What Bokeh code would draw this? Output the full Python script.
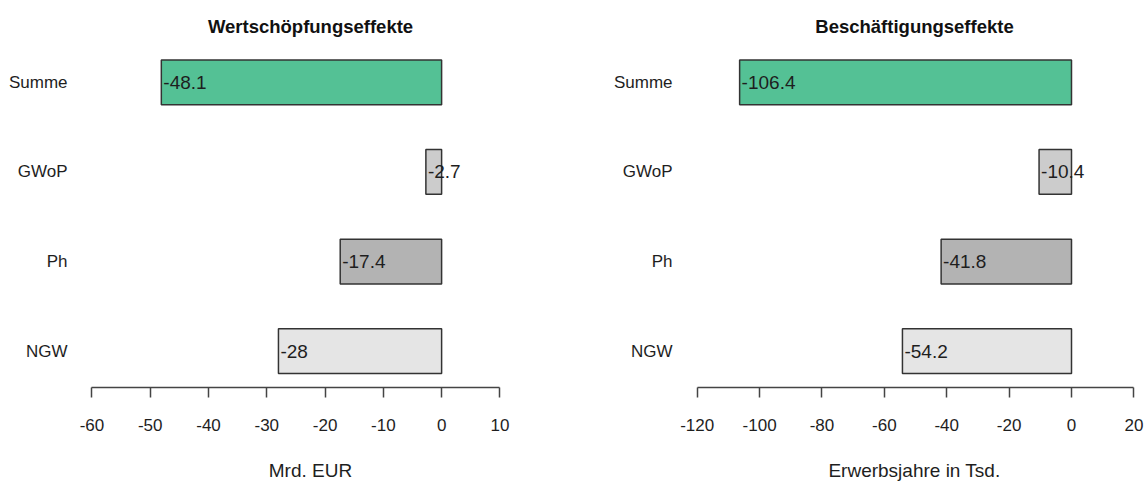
from bokeh.plotting import figure
from bokeh.models import Range1d, FixedTicker, ColumnDataSource
from bokeh.layouts import row
from bokeh.core.properties import value
from bokeh.embed import file_html
from bokeh.resources import INLINE

# ---- data ----
categories = ["NGW", "Ph", "GWoP", "Summe"]          # bottom to top
wertschoepfung = [-28.0, -17.4, -2.7, -48.1]          # Mrd. EUR
beschaeftigung = [-54.2, -41.8, -10.4, -106.4]        # Erwerbsjahre in Tsd.
bar_colors = ["#E5E5E5", "#B3B3B3", "#CCCCCC", "#54C195"]
left_ticks = [-60, -50, -40, -30, -20, -10, 0, 10]
right_ticks = [-120, -100, -80, -60, -40, -20, 0, 20]
titles = ["Wertschöpfungseffekte", "Beschäftigungseffekte"]
xlabels = ["Mrd. EUR", "Erwerbsjahre in Tsd."]

FONT = "Liberation Sans"
TXT = "#1e1e1e"


def fmt(v):
    return f"{v:g}"


def make_panel(title, vals, ticks, xlab, xr, width, bl, br, cat_standoff):
    p = figure(width=width, height=483, x_range=Range1d(*xr),
               y_range=Range1d(-0.4065, 3.412),
               output_backend="svg", toolbar_location=None,
               min_border_left=bl, min_border_right=br,
               min_border_top=45, min_border_bottom=95)
    p.outline_line_color = None
    p.xgrid.visible = False
    p.ygrid.visible = False
    p.background_fill_color = "white"
    p.border_fill_color = "white"

    src = ColumnDataSource(dict(
        y=list(range(len(categories))),
        v=vals,
        lab=[fmt(v) for v in vals],
        color=bar_colors,
    ))
    p.hbar(y="y", left="v", right=0, height=0.5, source=src,
           fill_color="color", line_color="#333333", line_width=1.5)
    p.text(x="v", y="y", text="lab", source=src, text_align="left",
           text_baseline="middle", x_offset=2,
           text_font=value(FONT), text_font_size="19px", text_color=TXT)

    # title
    p.title.text = title
    p.title.align = "center"
    p.title.text_font = FONT
    p.title.text_font_size = "18.5px"
    p.title.text_font_style = "bold"
    p.title.text_color = "#111111"
    p.title.standoff = 17

    # x axis
    xa = p.xaxis[0]
    xa.ticker = FixedTicker(ticks=ticks)
    xa.major_label_overrides = {t: fmt(t) for t in ticks}
    xa.bounds = (ticks[0], ticks[-1])
    xa.axis_line_color = "#444444"
    xa.axis_line_width = 1.5
    xa.major_tick_line_color = "#444444"
    xa.major_tick_line_width = 1.5
    xa.major_tick_out = 10
    xa.major_tick_in = 0
    xa.minor_tick_line_color = None
    xa.major_label_text_font = FONT
    xa.major_label_text_font_size = "17px"
    xa.major_label_text_color = TXT
    xa.major_label_standoff = 21
    xa.axis_label = xlab
    xa.axis_label_text_font = FONT
    xa.axis_label_text_font_size = "19px"
    xa.axis_label_text_font_style = "normal"
    xa.axis_label_text_color = TXT
    xa.axis_label_standoff = 26

    # y axis (category names)
    ya = p.yaxis[0]
    ya.ticker = FixedTicker(ticks=list(range(len(categories))))
    ya.major_label_overrides = {i: c for i, c in enumerate(categories)}
    ya.axis_line_color = None
    ya.major_tick_line_color = None
    ya.minor_tick_line_color = None
    ya.major_tick_out = 0
    ya.major_tick_in = 0
    ya.major_label_text_font = FONT
    ya.major_label_text_font_size = "17px"
    ya.major_label_text_color = TXT
    ya.major_label_standoff = cat_standoff
    return p


p1 = make_panel(titles[0], wertschoepfung, left_ticks, xlabels[0],
                (-63, 18), 580, 74, 34, 7)
p2 = make_panel(titles[1], beschaeftigung, right_ticks, xlabels[1],
                (-122.47, 21.8), 567, 109, 8, 17)

layout = row(p1, p2)
open("out.html", "w").write(file_html(layout, INLINE))
